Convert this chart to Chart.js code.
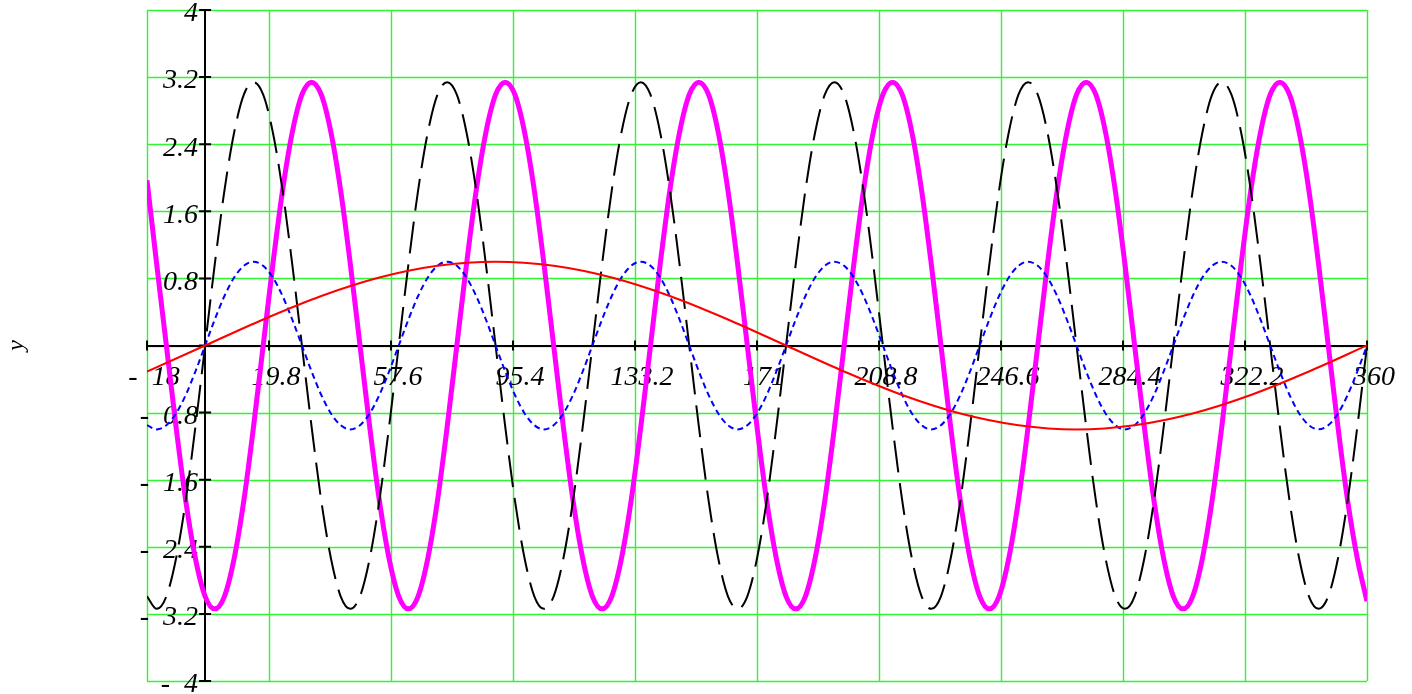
<!DOCTYPE html>
<html>
<head>
<meta charset="utf-8">
<script src="https://cdn.jsdelivr.net/npm/chart.js@4"></script>
<style>
  html, body { margin: 0; padding: 0; background: #fff; }
  #wrap { width: 1412px; height: 694px; }
</style>
</head>
<body>
<div id="wrap"><canvas id="myChart"></canvas></div>
<script>
// sample positions (degrees) for the fast curves, every 3 degrees
const xFast = [
  -18, -15, -12, -9, -6, -3,
  0, 3, 6, 9, 12, 15, 18, 21, 24, 27, 30, 33, 36, 39, 42, 45, 48, 51, 54, 57,
  60, 63, 66, 69, 72, 75, 78, 81, 84, 87, 90, 93, 96, 99, 102, 105, 108, 111, 114, 117,
  120, 123, 126, 129, 132, 135, 138, 141, 144, 147, 150, 153, 156, 159, 162, 165, 168, 171, 174, 177,
  180, 183, 186, 189, 192, 195, 198, 201, 204, 207, 210, 213, 216, 219, 222, 225, 228, 231, 234, 237,
  240, 243, 246, 249, 252, 255, 258, 261, 264, 267, 270, 273, 276, 279, 282, 285, 288, 291, 294, 297,
  300, 303, 306, 309, 312, 315, 318, 321, 324, 327, 330, 333, 336, 339, 342, 345, 348, 351, 354, 357,
  360
];

// blue dotted curve
const blueVals = [
  -0.95, -1, -0.95, -0.81, -0.59, -0.31,
  0, 0.31, 0.59, 0.81, 0.95, 1, 0.95, 0.81, 0.59, 0.31, 0, -0.31, -0.59, -0.81, -0.95, -1, -0.95, -0.81, -0.59, -0.31,
  0, 0.31, 0.59, 0.81, 0.95, 1, 0.95, 0.81, 0.59, 0.31, 0, -0.31, -0.59, -0.81, -0.95, -1, -0.95, -0.81, -0.59, -0.31,
  0, 0.31, 0.59, 0.81, 0.95, 1, 0.95, 0.81, 0.59, 0.31, 0, -0.31, -0.59, -0.81, -0.95, -1, -0.95, -0.81, -0.59, -0.31,
  0, 0.31, 0.59, 0.81, 0.95, 1, 0.95, 0.81, 0.59, 0.31, 0, -0.31, -0.59, -0.81, -0.95, -1, -0.95, -0.81, -0.59, -0.31,
  0, 0.31, 0.59, 0.81, 0.95, 1, 0.95, 0.81, 0.59, 0.31, 0, -0.31, -0.59, -0.81, -0.95, -1, -0.95, -0.81, -0.59, -0.31,
  0, 0.31, 0.59, 0.81, 0.95, 1, 0.95, 0.81, 0.59, 0.31, 0, -0.31, -0.59, -0.81, -0.95, -1, -0.95, -0.81, -0.59, -0.31,
  0
];

// black dashed curve
const blackVals = [
  -2.99, -3.14, -2.99, -2.54, -1.85, -0.97,
  0, 0.97, 1.85, 2.54, 2.99, 3.14, 2.99, 2.54, 1.85, 0.97, 0, -0.97, -1.85, -2.54, -2.99, -3.14, -2.99, -2.54, -1.85, -0.97,
  0, 0.97, 1.85, 2.54, 2.99, 3.14, 2.99, 2.54, 1.85, 0.97, 0, -0.97, -1.85, -2.54, -2.99, -3.14, -2.99, -2.54, -1.85, -0.97,
  0, 0.97, 1.85, 2.54, 2.99, 3.14, 2.99, 2.54, 1.85, 0.97, 0, -0.97, -1.85, -2.54, -2.99, -3.14, -2.99, -2.54, -1.85, -0.97,
  0, 0.97, 1.85, 2.54, 2.99, 3.14, 2.99, 2.54, 1.85, 0.97, 0, -0.97, -1.85, -2.54, -2.99, -3.14, -2.99, -2.54, -1.85, -0.97,
  0, 0.97, 1.85, 2.54, 2.99, 3.14, 2.99, 2.54, 1.85, 0.97, 0, -0.97, -1.85, -2.54, -2.99, -3.14, -2.99, -2.54, -1.85, -0.97,
  0, 0.97, 1.85, 2.54, 2.99, 3.14, 2.99, 2.54, 1.85, 0.97, 0, -0.97, -1.85, -2.54, -2.99, -3.14, -2.99, -2.54, -1.85, -0.97,
  0
];

// thick magenta curve
const magentaVals = [
  1.97, 0.97, 0, -0.97, -1.85, -2.54,
  -2.99, -3.14, -2.99, -2.54, -1.85, -0.97, 0, 0.97, 1.85, 2.54, 2.99, 3.14, 2.99, 2.54, 1.85, 0.97, 0, -0.97, -1.85, -2.54,
  -2.99, -3.14, -2.99, -2.54, -1.85, -0.97, 0, 0.97, 1.85, 2.54, 2.99, 3.14, 2.99, 2.54, 1.85, 0.97, 0, -0.97, -1.85, -2.54,
  -2.99, -3.14, -2.99, -2.54, -1.85, -0.97, 0, 0.97, 1.85, 2.54, 2.99, 3.14, 2.99, 2.54, 1.85, 0.97, 0, -0.97, -1.85, -2.54,
  -2.99, -3.14, -2.99, -2.54, -1.85, -0.97, 0, 0.97, 1.85, 2.54, 2.99, 3.14, 2.99, 2.54, 1.85, 0.97, 0, -0.97, -1.85, -2.54,
  -2.99, -3.14, -2.99, -2.54, -1.85, -0.97, 0, 0.97, 1.85, 2.54, 2.99, 3.14, 2.99, 2.54, 1.85, 0.97, 0, -0.97, -1.85, -2.54,
  -2.99, -3.14, -2.99, -2.54, -1.85, -0.97, 0, 0.97, 1.85, 2.54, 2.99, 3.14, 2.99, 2.54, 1.85, 0.97, 0, -0.97, -1.85, -2.54,
  -3.05
];

// slow red curve, every 18 degrees
const xSlow = [-18, 0, 18, 36, 54, 72, 90, 108, 126, 144, 162, 180, 198, 216, 234, 252, 270, 288, 306, 324, 342, 360];
const redVals = [-0.31, 0, 0.31, 0.59, 0.81, 0.95, 1, 0.95, 0.81, 0.59, 0.31, 0, -0.31, -0.59, -0.81, -0.95, -1, -0.95, -0.81, -0.59, -0.31, 0];

// axis ticks
const xTicks = [-18, 19.8, 57.6, 95.4, 133.2, 171, 208.8, 246.6, 284.4, 322.2, 360];
const xTickLabels = ["-\u200218", "19.8", "57.6", "95.4", "133.2", "171", "208.8", "246.6", "284.4", "322.2", "360"];
const yTicks = [-4, -3.2, -2.4, -1.6, -0.8, 0, 0.8, 1.6, 2.4, 3.2, 4];
const yTickLabels = ["-\u20024 ", "-\u20023.2 ", "-\u20022.4 ", "-\u20021.6 ", "-\u20020.8 ", "", "0.8 ", "1.6 ", "2.4 ", "3.2 ", "4 "];

const pts = (xs, ys) => xs.map((x, i) => ({ x: x, y: ys[i] }));
const tickFont = { family: "'Liberation Serif', 'Times New Roman', serif", size: 28, style: "italic" };
const gridGreen = "rgb(50, 245, 50)";

// green grid under everything, taken from the scales' own tick positions
const greenGrid = {
  id: "greenGrid",
  beforeDraw(chart) {
    const { ctx, chartArea: a, scales: { x, y } } = chart;
    ctx.save();
    ctx.strokeStyle = gridGreen;
    ctx.lineWidth = 1.4;
    ctx.beginPath();
    x.ticks.forEach(t => {
      const px = Math.round(x.getPixelForValue(t.value)) + 0.5;
      ctx.moveTo(px, a.top);
      ctx.lineTo(px, a.bottom);
    });
    y.ticks.forEach(t => {
      const py = Math.round(y.getPixelForValue(t.value)) + 0.5;
      ctx.moveTo(a.left, py);
      ctx.lineTo(a.right, py);
    });
    ctx.stroke();
    ctx.restore();
  }
};

// short black marks crossing the axes at each tick, plus the y title
const axisMarks = {
  id: "axisMarks",
  beforeDatasetsDraw(chart) {
    const { ctx, scales: { x, y } } = chart;
    const x0 = x.getPixelForValue(0);
    const y0 = y.getPixelForValue(0);
    ctx.save();
    ctx.strokeStyle = "#000";
    ctx.lineWidth = 2;
    ctx.beginPath();
    xTicks.forEach(v => {
      const px = x.getPixelForValue(v);
      ctx.moveTo(px, y0 - 5);
      ctx.lineTo(px, y0 + 5);
    });
    yTicks.forEach(v => {
      const py = y.getPixelForValue(v);
      ctx.moveTo(x0 - 6, py);
      ctx.lineTo(x0 + 6, py);
    });
    ctx.stroke();
    ctx.restore();
  },
  afterDraw(chart) {
    const { ctx, scales: { y } } = chart;
    ctx.save();
    ctx.translate(17, y.getPixelForValue(0));
    ctx.rotate(-Math.PI / 2);
    ctx.font = "italic 24px 'Liberation Serif', serif";
    ctx.fillStyle = "#000";
    ctx.textAlign = "center";
    ctx.textBaseline = "middle";
    ctx.fillText("y", 0, 0);
    ctx.restore();
  }
};

new Chart(document.getElementById("myChart"), {
  type: "line",
  data: {
    datasets: [
      {
        label: "red",
        data: pts(xSlow, redVals),
        borderColor: "#ff0000",
        borderWidth: 2,
        cubicInterpolationMode: "monotone",
        pointRadius: 0,
        fill: false,
        order: 0,
      },
      {
        label: "blue",
        data: pts(xFast, blueVals),
        borderColor: "#0000ff",
        borderWidth: 2,
        borderDash: [6, 4],
        cubicInterpolationMode: "monotone",
        pointRadius: 0,
        fill: false,
        order: 1,
      },
      {
        label: "black",
        data: pts(xFast, blackVals),
        borderColor: "#000000",
        borderWidth: 2,
        borderDash: [32, 11],
        cubicInterpolationMode: "monotone",
        pointRadius: 0,
        fill: false,
        order: 2,
      },
      {
        label: "magenta",
        data: pts(xFast, magentaVals),
        borderColor: "#ff00ff",
        borderWidth: 5,
        cubicInterpolationMode: "monotone",
        pointRadius: 0,
        fill: false,
        order: 3,
      },
    ],
  },
  options: {
    responsive: true,
    maintainAspectRatio: false,
    animation: false,
    layout: { padding: { left: 147, right: 45, top: 10, bottom: 13 } },
    plugins: { legend: { display: false }, tooltip: { enabled: false } },
    scales: {
      x: {
        type: "linear",
        min: -18,
        max: 360,
        position: { y: 0 },
        afterBuildTicks: (scale) => { scale.ticks = xTicks.map(v => ({ value: v })); },
        afterFit: (scale) => { scale.paddingLeft = 0; scale.paddingRight = 0; },
        grid: { display: false, drawTicks: false },
        border: { display: true, color: "#000", width: 2 },
        ticks: {
          autoSkip: false,
          maxRotation: 0,
          padding: 15,
          labelOffset: 7,
          color: "#000",
          font: tickFont,
          callback: (v, i) => xTickLabels[i],
        },
      },
      y: {
        type: "linear",
        min: -4,
        max: 4,
        position: { x: 0 },
        afterBuildTicks: (scale) => { scale.ticks = yTicks.map(v => ({ value: v })); },
        afterFit: (scale) => { scale.paddingTop = 0; scale.paddingBottom = 0; },
        grid: { display: false, drawTicks: false },
        border: { display: true, color: "#000", width: 2 },
        ticks: {
          autoSkip: false,
          padding: 6,
          labelOffset: 4,
          color: "#000",
          font: tickFont,
          callback: (v, i) => yTickLabels[i],
        },
      },
    },
  },
  plugins: [greenGrid, axisMarks],
});
</script>
</body>
</html>
